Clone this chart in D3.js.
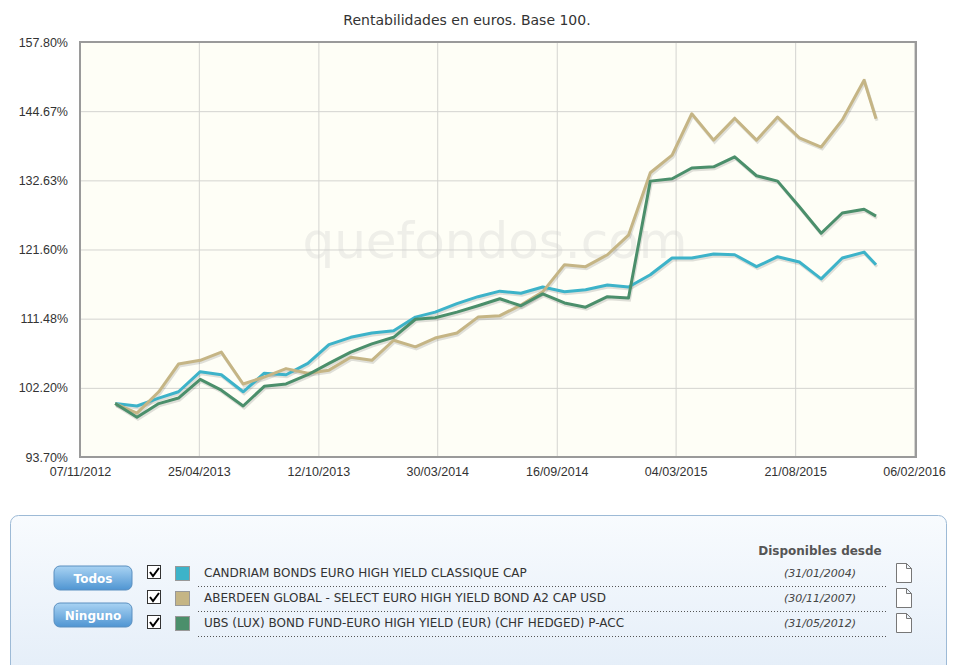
<!DOCTYPE html>
<html><head><meta charset="utf-8">
<script src="https://cdn.jsdelivr.net/npm/d3@7"></script>
<style>body{margin:0;background:#fff;font-family:"DejaVu Sans",Verdana,sans-serif;}</style>
</head><body>
<svg id="c" width="964" height="665"></svg>
<script>
let dates = ["2012-12-27","2013-01-27","2013-02-27","2013-03-27","2013-04-27","2013-05-27","2013-06-27","2013-07-27","2013-08-27","2013-09-27","2013-10-27","2013-11-27","2013-12-27","2014-01-27","2014-02-27","2014-03-27","2014-04-27","2014-05-27","2014-06-27","2014-07-27","2014-08-27","2014-09-27","2014-10-27","2014-11-27","2014-12-27","2015-01-27","2015-02-27","2015-03-27","2015-04-27","2015-05-27","2015-06-27","2015-07-27","2015-08-27","2015-09-27","2015-10-27","2015-11-27","2015-12-14"];
let candriam = [100.2,99.9,100.9,101.7,104.3,103.9,101.7,104.1,103.9,105.4,107.9,108.9,109.5,109.8,111.7,112.4,113.6,114.6,115.4,115.1,116.0,115.3,115.6,116.3,116.0,117.8,120.3,120.3,120.9,120.8,119.0,120.5,119.7,117.2,120.3,121.2,119.3];
let aberdeen = [100.2,99.0,101.7,105.3,105.8,106.9,102.7,103.6,104.7,104.1,104.5,106.2,105.8,108.5,107.6,108.8,109.5,111.7,111.9,113.4,115.3,119.3,119.0,120.8,123.8,133.9,136.9,144.2,139.5,143.4,139.5,143.6,139.9,138.3,143.1,150.4,143.3];
let ubs = [100.2,98.5,100.2,100.9,103.3,101.9,99.9,102.4,102.7,103.9,105.4,106.9,108.0,108.9,111.4,111.6,112.4,113.3,114.3,113.3,115.0,113.7,113.1,114.6,114.4,132.5,132.9,134.7,134.9,136.6,133.4,132.5,128.3,124.1,127.3,127.9,126.8];
let yTicks = [93.70,102.20,111.48,121.60,132.63,144.67,157.80];
let xTicks = ["2012-11-07","2013-04-25","2013-10-12","2014-03-30","2014-09-16","2015-03-04","2015-08-21","2016-02-06"];
let fundNames = ["CANDRIAM BONDS EURO HIGH YIELD CLASSIQUE CAP","ABERDEEN GLOBAL - SELECT EURO HIGH YIELD BOND A2 CAP USD","UBS (LUX) BOND FUND-EURO HIGH YIELD (EUR) (CHF HEDGED) P-ACC"];
let fundSince = ["(31/01/2004)","(30/11/2007)","(31/05/2012)"];
let colors = ["#3db3c9","#c5b585","#4b8f6b"];

const parse = d3.timeParse("%Y-%m-%d");
const fmt = d3.timeFormat("%d/%m/%Y");
const svg = d3.select("#c");
const L = 80, R = 916, T = 42, B = 457;

const x = d3.scaleTime().domain([parse(xTicks[0]), parse(xTicks[7])]).range([L, 914]);
const y = d3.scaleLog().domain([93.7, 157.8]).range([B, T]);

svg.append("text").attr("x", 467).attr("y", 25).attr("text-anchor", "middle")
  .attr("font-size", 14).attr("fill", "#333").text("Rentabilidades en euros. Base 100.");

svg.append("rect").attr("x", L).attr("y", T).attr("width", R - L).attr("height", B - T)
  .attr("fill", "#fefef6");

svg.append("text").attr("x", 495).attr("y", 258).attr("text-anchor", "middle")
  .attr("font-size", 50).attr("fill", "#efefe9").attr("font-family", "Verdana, DejaVu Sans")
  .text("quefondos.com");

const yAxis = svg.append("g").attr("transform", `translate(${L},0)`)
  .call(d3.axisLeft(y).tickValues(yTicks).tickSize(-(R - L)).tickFormat(d => d.toFixed(2) + "%"));
const xAxis = svg.append("g").attr("transform", `translate(0,${B})`)
  .call(d3.axisBottom(x).tickValues(xTicks.map(parse)).tickSize(-(B - T)).tickFormat(fmt));
[yAxis, xAxis].forEach(a => {
  a.select(".domain").remove();
  a.selectAll("line").attr("stroke", "#d4d4d0");
  a.selectAll("text").attr("font-size", 12.5).attr("fill", "#333");
});
yAxis.selectAll("text").attr("x", -12);
xAxis.selectAll("text").attr("dy", "1.25em");

svg.append("rect").attr("x", L).attr("y", T).attr("width", R - L).attr("height", B - T)
  .attr("fill", "none").attr("stroke", "#9a9a9a").attr("stroke-width", 2);

const series = [candriam, aberdeen, ubs];
const line = d3.line().x((d, i) => x(parse(dates[i]))).y(d => y(d));
series.forEach(s => {
  svg.append("path").datum(s).attr("d", line).attr("fill", "none")
    .attr("stroke", "rgba(0,0,0,0.12)").attr("stroke-width", 3).attr("transform", "translate(1,2)");
});
series.forEach((s, i) => {
  svg.append("path").datum(s).attr("d", line).attr("fill", "none")
    .attr("stroke", colors[i]).attr("stroke-width", 3).attr("stroke-linejoin", "round");
});

// legend panel
const defs = svg.append("defs");
const g1 = defs.append("linearGradient").attr("id", "pg").attr("x1", 0).attr("y1", 0).attr("x2", 0).attr("y2", 1);
g1.append("stop").attr("offset", 0).attr("stop-color", "#f8fbfe");
g1.append("stop").attr("offset", 1).attr("stop-color", "#e3edf8");
const g2 = defs.append("linearGradient").attr("id", "bg").attr("x1", 0).attr("y1", 0).attr("x2", 0).attr("y2", 1);
g2.append("stop").attr("offset", 0).attr("stop-color", "#a9d3f3");
g2.append("stop").attr("offset", 1).attr("stop-color", "#4f95d2");

svg.append("rect").attr("x", 10.5).attr("y", 515.5).attr("width", 936).attr("height", 170).attr("rx", 8)
  .attr("fill", "url(#pg)").attr("stroke", "#9dbad6");

["Todos", "Ninguno"].forEach((t, i) => {
  const by = 566 + i * 37;
  svg.append("rect").attr("x", 54).attr("y", by).attr("width", 78).attr("height", 24).attr("rx", 6)
    .attr("fill", "url(#bg)").attr("stroke", "#5a8fc0");
  svg.append("text").attr("x", 93).attr("y", by + 16.5).attr("text-anchor", "middle")
    .attr("font-size", 12).attr("font-weight", "bold").attr("fill", "#fff").text(t);
});

svg.append("text").attr("x", 820).attr("y", 555).attr("text-anchor", "middle")
  .attr("font-size", 12).attr("font-weight", "bold").attr("fill", "#555").text("Disponibles desde");

fundNames.forEach((n, i) => {
  const ry = 573 + i * 25;
  svg.append("rect").attr("x", 147.5).attr("y", ry - 7.5).attr("width", 13).attr("height", 13)
    .attr("fill", "#fff").attr("stroke", "#333");
  svg.append("path").attr("d", `M150,${ry - 1} l3,4 l6,-8`).attr("fill", "none").attr("stroke", "#000").attr("stroke-width", 2);
  svg.append("rect").attr("x", 175.5).attr("y", ry - 6.5).attr("width", 14).attr("height", 14)
    .attr("fill", colors[i]).attr("stroke", "#999");
  svg.append("text").attr("x", 204).attr("y", ry + 4).attr("font-size", 12).attr("fill", "#333").text(n);
  svg.append("text").attr("x", 856).attr("y", ry + 4).attr("text-anchor", "end").attr("font-size", 11)
    .attr("font-style", "italic").attr("fill", "#444").text(fundSince[i]);
  svg.append("line").attr("x1", 198).attr("x2", 886).attr("y1", ry + 13.5).attr("y2", ry + 13.5)
    .attr("stroke", "#555").attr("stroke-dasharray", "1,2");
  svg.append("path").attr("d", `M896.5,${ry - 9.5} h10 l5,5 v14 h-15 z M906.5,${ry - 9.5} v5 h5`)
    .attr("fill", "#fff").attr("stroke", "#777");
});
</script>
</body></html>
